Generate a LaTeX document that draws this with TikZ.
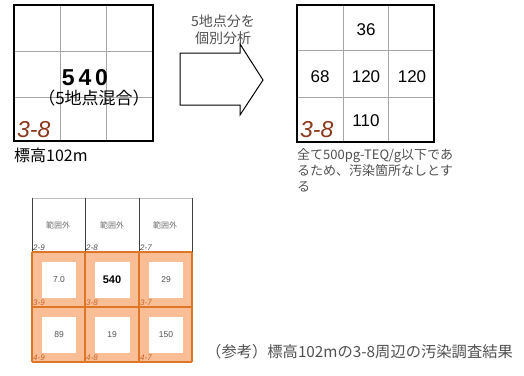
\documentclass[tikz,border=0pt]{standalone}
\usepackage{fontspec}
\setmainfont{Noto Sans CJK JP}
\newfontfamily\jpf{Noto Sans CJK JP}
\newfontfamily\arialf{Liberation Sans}
\definecolor{brownlbl}{RGB}{140,55,25}
\definecolor{orfill}{RGB}{249,190,150}
\definecolor{orline}{RGB}{222,118,40}
\definecolor{ortext}{RGB}{200,100,40}
\definecolor{txtgray}{RGB}{80,80,80}
\tikzset{
  gridln/.style={draw=gray!70, line width=0.8pt},
  bigbox/.style={draw=black, line width=2.6pt},
  lbl/.style={inner sep=0pt},
  bignum/.style={lbl, font=\arialf\fontsize{17}{17}\selectfont},
  codebig/.style={lbl, anchor=base west, text=brownlbl, font=\arialf\itshape\fontsize{23}{23}\selectfont},
  jtxt/.style={lbl, anchor=base west, text=txtgray, font=\jpf\fontsize{13}{13}\selectfont},
  outtxt/.style={lbl, text=txtgray!80, font=\jpf\fontsize{8}{8}\selectfont},
  cellcode/.style={lbl, anchor=south west, font=\arialf\itshape\fontsize{8}{8}\selectfont},
  cellval/.style={lbl, text=txtgray, font=\arialf\fontsize{8.5}{8.5}\selectfont},
  orln/.style={draw=orline, line width=1.6pt},
  arrtxt/.style={lbl, text=txtgray, font=\jpf\fontsize{14}{14}\selectfont},
}
\begin{document}
\begin{tikzpicture}[x=1pt,y=-1pt]
\useasboundingbox (0,0) rectangle (524,375);
% left grid
\draw[gridln] (14,51)--(153,51) (14,97)--(153,97) (60,5)--(60,141) (106,5)--(106,141);
\draw[bigbox] (14,5) rectangle (153,141);
\node[lbl, font=\arialf\bfseries\fontsize{23}{23}\selectfont] (n540) at (85,78) {5\,4\,0};
\node[lbl, font=\jpf\fontsize{17}{17}\selectfont] (mix) at (94,98) {（5地点混合）};
\node[codebig] (codeL) at (17,137) {3-8};
\node[lbl, anchor=west, font=\jpf\fontsize{16}{16}\selectfont] (elev) at (14,155) {標高102m};
% arrow
\draw[line width=1pt] (180,53) -- (240,53) -- (240,44) -- (263,80) -- (240,115) -- (240,105) -- (180,105) -- cycle;
\node[arrtxt] (a1) at (223,21) {5地点分を};
\node[arrtxt] (a2) at (223,38) {個別分析};
% right grid
\draw[gridln] (297,50)--(434,50) (297,97)--(434,97) (343,5)--(343,142) (388,5)--(388,142);
\draw[bigbox] (297,5) rectangle (434,142);
\node[bignum] (r36) at (366,30) {36};
\node[bignum] (r68) at (320,77) {68};
\node[bignum] (r120a) at (366,77) {120};
\node[bignum] (r120b) at (412,77) {120};
\node[bignum] (r110) at (366,121) {110};
\node[codebig] (codeR) at (300,137) {3-8};
\node[jtxt] (t1) at (297,159) {全て500pg-TEQ/g以下であ};
\node[jtxt] (t2) at (297,175) {るため、汚染箇所なしとす};
\node[jtxt] (t3) at (297,191) {る};
% bottom grid
\fill[orfill] (32,252) rectangle (192,362);
\foreach \xa/\xb in {32/85,85/139,139/192}{
  \foreach \ya/\yb in {252/307,307/362}{
    \fill[white] (\xa+10,\ya+10) rectangle (\xb-9,\yb-9);
  }
}
\draw[draw=gray!50, line width=0.6pt] (32,198) -- (192,198);
\draw[draw=black!75, line width=1pt] (32,198)--(32,252) (85,198)--(85,252) (139,198)--(139,252) (192,198)--(192,252);
\draw[orln] (32,252)--(192,252) (32,307)--(192,307) (32,362)--(192,362)
  (32,252)--(32,362) (85,252)--(85,362) (139,252)--(139,362) (192,252)--(192,362);
\node[outtxt] (o1) at (58,225) {範囲外};
\node[outtxt] (o2) at (112,225) {範囲外};
\node[outtxt] (o3) at (165,225) {範囲外};
\node[cellcode, text=black!70] (c29) at (33,251) {2-9};
\node[cellcode, text=black!70] (c28) at (86,251) {2-8};
\node[cellcode, text=black!70] (c27) at (140,251) {2-7};
\node[cellcode, text=ortext] (c39) at (33,306) {3-9};
\node[cellcode, text=ortext] (c38) at (86,306) {3-8};
\node[cellcode, text=ortext] (c37) at (140,306) {3-7};
\node[cellcode, text=ortext] (c49) at (33,361) {4-9};
\node[cellcode, text=ortext] (c48) at (86,361) {4-8};
\node[cellcode, text=ortext] (c47) at (140,361) {4-7};
\node[cellval] (v39) at (59,280) {7.0};
\node[lbl, font=\arialf\bfseries\fontsize{11}{11}\selectfont] (v38) at (112,280) {540};
\node[cellval] (v37) at (166,280) {29};
\node[cellval] (v49) at (59,335) {89};
\node[cellval] (v48) at (112,335) {19};
\node[cellval] (v47) at (166,335) {150};
% caption
\node[lbl, anchor=west, text=txtgray, font=\jpf\fontsize{15.3}{15.3}\selectfont] (cap) at (206,352) {（参考）標高102mの3-8周辺の汚染調査結果};
\end{tikzpicture}
\end{document}
